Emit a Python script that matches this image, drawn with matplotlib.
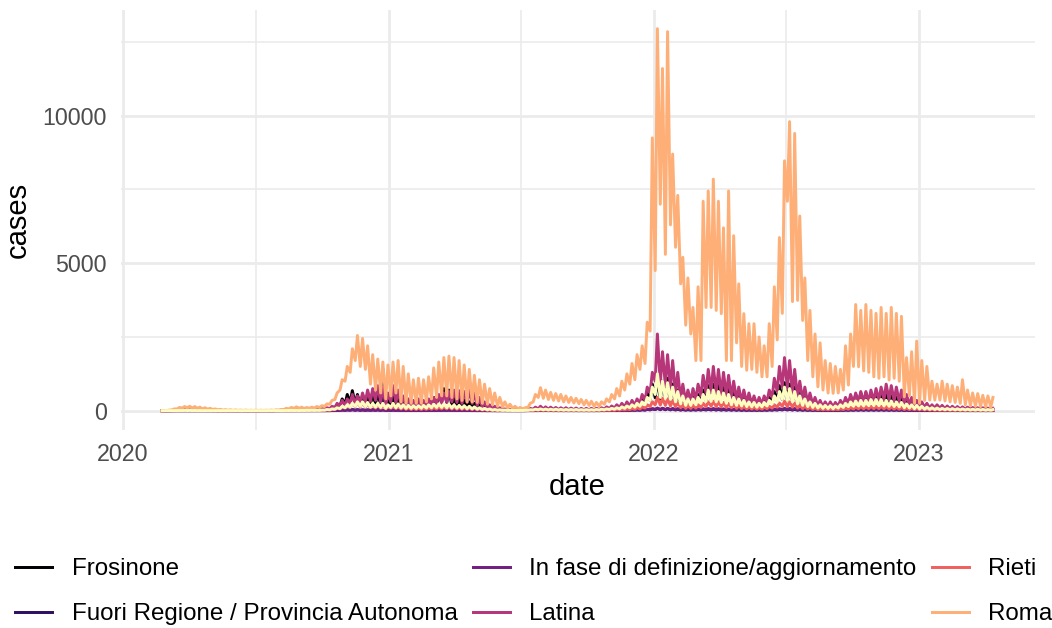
import numpy as np
import matplotlib
matplotlib.use("Agg")
import matplotlib.pyplot as plt
import matplotlib.dates as mdates
from matplotlib.lines import Line2D
from matplotlib.ticker import FixedLocator, NullFormatter

plt.rcParams['font.family'] = ['Liberation Sans', 'DejaVu Sans']

# Weekly reports start on Monday 2020-02-24; each week gives a Monday low
# and a mid-week high (daily new cases per province).
first_monday = np.datetime64('2020-02-24')

provinces = ["Frosinone", "Fuori Regione / Provincia Autonoma",
             "In fase di definizione/aggiornamento", "Latina", "Rieti",
             "Roma", "Viterbo"]
palette = ["#000004", "#2D1160", "#721F81", "#B63679", "#F1605D",
           "#FEAF77", "#FCFDBF"]

frosinone_high = [0, 2, 8, 15, 20, 18, 15, 12, 10, 8,
                  6, 5, 4, 3, 3, 3, 3, 3, 3, 3,
                  3, 4, 5, 8, 12, 15, 15, 18, 20, 25,
                  30, 40, 60, 80, 200, 400, 550, 680, 550, 500,
                  450, 550, 600, 500, 350, 450, 400, 300, 250, 250,
                  250, 280, 350, 450, 500, 750, 700, 450, 400, 350,
                  300, 250, 200, 150, 100, 70, 50, 30, 20, 15,
                  12, 20, 40, 60, 70, 60, 55, 50, 45, 40,
                  40, 40, 35, 35, 35, 40, 50, 70, 90, 120,
                  150, 200, 250, 300, 400, 600, 900, 1100, 1000, 1100,
                  900, 700, 500, 400, 450, 550, 700, 850, 900, 850,
                  800, 750, 650, 550, 450, 400, 350, 300, 350, 450,
                  650, 850, 950, 900, 800, 600, 450, 350, 280, 220,
                  200, 200, 200, 250, 350, 450, 550, 600, 600, 580,
                  550, 600, 550, 500, 450, 400, 300, 250, 220, 180,
                  150, 120, 110, 100, 90, 85, 80, 75, 70, 65,
                  60, 55, 50, 45]
frosinone_low = [0, 1, 4, 7, 9, 8, 7, 5, 4, 3,
                 3, 2, 2, 1, 1, 1, 1, 1, 1, 1,
                 1, 2, 2, 3, 5, 6, 6, 8, 9, 10,
                 12, 16, 25, 35, 80, 160, 220, 280, 230, 200,
                 180, 220, 240, 200, 120, 180, 160, 120, 100, 100,
                 100, 110, 140, 180, 200, 300, 280, 180, 160, 140,
                 120, 100, 80, 60, 40, 28, 20, 12, 8, 6,
                 5, 8, 16, 24, 28, 24, 22, 20, 18, 16,
                 16, 16, 14, 14, 14, 16, 20, 28, 36, 48,
                 60, 80, 100, 120, 160, 240, 360, 440, 400, 440,
                 360, 280, 200, 160, 180, 220, 280, 340, 360, 340,
                 320, 300, 260, 220, 180, 160, 140, 120, 140, 180,
                 260, 340, 380, 360, 320, 240, 180, 140, 110, 90,
                 80, 80, 80, 100, 140, 180, 220, 240, 240, 230,
                 220, 240, 220, 200, 180, 160, 120, 100, 90, 70,
                 60, 50, 45, 40, 36, 34, 32, 30, 28, 26,
                 24, 22, 20, 18]

fuori_high = [0, 0, 1, 1, 2, 2, 1, 1, 1, 1,
              0, 0, 0, 0, 0, 0, 0, 0, 0, 0,
              0, 0, 0, 1, 1, 1, 1, 1, 2, 2,
              2, 3, 5, 8, 15, 25, 30, 40, 35, 30,
              30, 35, 40, 1420, 25, 30, 25, 20, 15, 15,
              15, 15, 18, 20, 22, 25, 25, 22, 20, 18,
              15, 12, 10, 8, 6, 4, 3, 2, 2, 2,
              2, 3, 5, 8, 10, 9, 8, 7, 6, 6,
              6, 6, 5, 5, 5, 5, 6, 8, 10, 12,
              15, 18, 22, 28, 35, 45, 60, 80, 75, 70,
              60, 50, 40, 35, 35, 40, 45, 50, 50, 45,
              40, 38, 35, 30, 25, 22, 20, 20, 22, 28,
              35, 45, 55, 50, 45, 35, 28, 22, 18, 15,
              14, 14, 14, 16, 20, 24, 28, 30, 30, 30,
              30, 30, 28, 26, 24, 22, 18, 15, 13, 12,
              10, 9, 8, 8, 7, 7, 6, 6, 5, 5,
              5, 5, 4, 4]
fuori_low = [0, 0, 0, 0, 1, 1, 0, 0, 0, 0,
             0, 0, 0, 0, 0, 0, 0, 0, 0, 0,
             0, 0, 0, 0, 0, 0, 0, 0, 1, 1,
             1, 1, 2, 4, 7, 12, 15, 18, 16, 14,
             14, 16, 18, 15, 10, 14, 12, 9, 7, 7,
             7, 7, 8, 9, 10, 12, 12, 10, 9, 8,
             7, 6, 5, 4, 3, 2, 1, 1, 1, 1,
             1, 1, 2, 4, 5, 4, 4, 3, 3, 3,
             3, 3, 2, 2, 2, 2, 3, 4, 5, 6,
             7, 8, 10, 13, 16, 20, 28, 36, 34, 32,
             28, 23, 18, 16, 16, 18, 20, 23, 23, 20,
             18, 17, 16, 14, 11, 10, 9, 9, 10, 13,
             16, 20, 25, 23, 20, 16, 13, 10, 8, 7,
             6, 6, 6, 7, 9, 11, 13, 14, 14, 14,
             14, 14, 13, 12, 11, 10, 8, 7, 6, 5,
             4, 4, 4, 4, 3, 3, 3, 3, 2, 2,
             2, 2, 2, 2]

in_fase_high = [0, 0, 0, 0, 0, 0, 0, 0, 0, 0,
                0, 0, 0, 0, 0, 0, 0, 0, 0, 0,
                0, 0, 0, 0, 0, 0, 0, 0, 0, 0,
                0, 0, 2, 5, 10, 20, 25, 30, 30, 25,
                20, 20, 20, 15, 10, 15, 12, 10, 8, 8,
                8, 8, 10, 12, 15, 15, 15, 12, 10, 10,
                8, 6, 5, 4, 3, 2, 2, 1, 1, 1,
                1, 2, 4, 6, 8, 8, 8, 6, 6, 5,
                5, 5, 5, 5, 5, 5, 6, 8, 10, 12,
                15, 18, 22, 28, 35, 50, 70, 90, 85, 80,
                75, 70, 65, 60, 60, 65, 70, 75, 75, 70,
                65, 60, 55, 50, 45, 40, 40, 40, 45, 50,
                60, 70, 80, 80, 75, 65, 55, 45, 40, 35,
                30, 30, 30, 35, 40, 45, 50, 55, 55, 55,
                55, 55, 50, 50, 45, 40, 35, 30, 28, 25,
                22, 20, 18, 16, 15, 14, 13, 12, 11, 10,
                10, 9, 8, 8]
in_fase_low = [0, 0, 0, 0, 0, 0, 0, 0, 0, 0,
               0, 0, 0, 0, 0, 0, 0, 0, 0, 0,
               0, 0, 0, 0, 0, 0, 0, 0, 0, 0,
               0, 0, 1, 2, 5, 10, 12, 15, 15, 12,
               10, 10, 10, 7, 5, 7, 6, 5, 4, 4,
               4, 4, 5, 6, 7, 7, 7, 6, 5, 5,
               4, 3, 2, 2, 1, 1, 1, 0, 0, 0,
               0, 1, 2, 3, 4, 4, 4, 3, 3, 2,
               2, 2, 2, 2, 2, 2, 3, 4, 5, 6,
               7, 9, 11, 14, 17, 25, 35, 45, 42, 40,
               37, 35, 32, 30, 30, 32, 35, 37, 37, 35,
               32, 30, 27, 25, 22, 20, 20, 20, 22, 25,
               30, 35, 40, 40, 37, 32, 27, 22, 20, 17,
               15, 15, 15, 17, 20, 22, 25, 27, 27, 27,
               27, 27, 25, 25, 22, 20, 17, 15, 14, 12,
               11, 10, 9, 8, 7, 7, 6, 6, 5, 5,
               5, 4, 4, 4]

latina_high = [0, 3, 10, 20, 25, 20, 15, 12, 10, 8,
               5, 5, 5, 5, 5, 5, 5, 5, 5, 5,
               5, 8, 10, 15, 20, 30, 25, 30, 40, 45,
               50, 70, 100, 150, 250, 350, 400, 550, 500, 600,
               700, 750, 850, 800, 600, 850, 700, 500, 400, 350,
               400, 350, 400, 450, 550, 600, 650, 700, 680, 650,
               700, 600, 450, 300, 200, 150, 100, 60, 40, 30,
               25, 40, 80, 120, 150, 130, 120, 110, 100, 100,
               90, 90, 80, 80, 80, 80, 100, 130, 160, 200,
               250, 300, 350, 400, 550, 800, 1300, 2600, 2000, 1900,
               1700, 1300, 900, 700, 750, 900, 1200, 1400, 1500, 1400,
               1300, 1200, 1000, 800, 700, 600, 500, 450, 500, 700,
               1100, 1500, 1800, 1700, 1400, 1000, 800, 600, 450, 350,
               300, 300, 280, 350, 450, 550, 600, 650, 650, 700,
               750, 800, 900, 850, 800, 700, 550, 450, 350, 300,
               250, 200, 200, 180, 160, 150, 140, 130, 120, 110,
               100, 100, 90, 80]
latina_low = [0, 1, 5, 10, 12, 10, 8, 6, 5, 4,
              2, 2, 2, 2, 2, 2, 2, 2, 2, 2,
              2, 3, 5, 8, 10, 15, 12, 15, 20, 20,
              25, 30, 50, 70, 110, 150, 180, 250, 220, 260,
              300, 320, 350, 300, 200, 300, 280, 200, 150, 150,
              160, 150, 170, 200, 230, 250, 280, 300, 280, 250,
              280, 250, 180, 120, 80, 60, 40, 25, 15, 12,
              10, 15, 30, 50, 60, 55, 50, 45, 40, 40,
              35, 35, 30, 30, 30, 30, 40, 50, 70, 90,
              110, 130, 150, 180, 250, 350, 600, 1000, 900, 850,
              750, 550, 400, 300, 320, 380, 500, 600, 650, 600,
              550, 500, 420, 350, 300, 250, 220, 200, 220, 300,
              450, 650, 800, 750, 600, 450, 350, 250, 200, 150,
              130, 130, 120, 150, 200, 240, 260, 280, 280, 300,
              320, 350, 380, 360, 340, 300, 230, 190, 150, 130,
              110, 90, 90, 80, 70, 65, 60, 55, 50, 45,
              45, 45, 40, 35]

rieti_high = [0, 1, 3, 5, 6, 5, 4, 3, 2, 2,
              1, 1, 1, 1, 1, 1, 1, 1, 1, 1,
              1, 1, 2, 3, 4, 5, 5, 5, 6, 8,
              10, 15, 25, 40, 80, 130, 180, 250, 300, 280,
              250, 220, 200, 180, 150, 170, 150, 120, 100, 90,
              90, 90, 100, 110, 120, 130, 130, 120, 110, 100,
              90, 80, 60, 45, 30, 20, 15, 10, 8, 6,
              5, 8, 15, 25, 30, 25, 22, 20, 18, 16,
              15, 15, 14, 14, 14, 15, 18, 25, 30, 40,
              50, 60, 80, 100, 130, 200, 300, 450, 420, 400,
              350, 280, 220, 180, 180, 200, 250, 300, 320, 300,
              280, 250, 220, 180, 150, 130, 120, 110, 120, 150,
              200, 260, 320, 300, 260, 200, 160, 120, 90, 70,
              60, 60, 60, 70, 90, 110, 130, 140, 140, 150,
              150, 150, 140, 130, 120, 110, 90, 80, 70, 60,
              50, 40, 35, 32, 30, 28, 26, 24, 22, 20,
              20, 18, 16, 15]
rieti_low = [0, 0, 1, 2, 3, 2, 2, 1, 1, 1,
             0, 0, 0, 0, 0, 0, 0, 0, 0, 0,
             0, 0, 1, 1, 2, 2, 2, 2, 3, 4,
             5, 7, 12, 20, 40, 60, 90, 120, 140, 130,
             120, 100, 90, 80, 60, 80, 70, 55, 45, 40,
             40, 40, 45, 50, 55, 60, 60, 55, 50, 45,
             40, 35, 28, 20, 14, 9, 7, 5, 4, 3,
             2, 4, 7, 12, 14, 12, 10, 9, 8, 7,
             7, 7, 6, 6, 6, 7, 8, 12, 14, 18,
             22, 28, 36, 45, 60, 90, 140, 200, 190, 180,
             160, 130, 100, 80, 80, 90, 110, 140, 150, 140,
             130, 110, 100, 80, 70, 60, 55, 50, 55, 70,
             90, 120, 150, 140, 120, 90, 70, 55, 40, 32,
             28, 28, 28, 32, 40, 50, 60, 65, 65, 70,
             70, 70, 65, 60, 55, 50, 40, 36, 32, 28,
             22, 18, 16, 15, 14, 13, 12, 11, 10, 9,
             9, 8, 7, 7]

roma_high = [5, 20, 60, 110, 140, 150, 140, 120, 100, 80,
             60, 45, 35, 30, 25, 20, 20, 15, 15, 15,
             15, 20, 25, 40, 80, 110, 130, 120, 110, 120,
             140, 170, 230, 350, 600, 1050, 1500, 2100, 2550, 2450,
             2200, 1900, 1750, 1650, 1550, 1650, 1700, 1500, 1250, 1050,
             1100, 1050, 1150, 1450, 1650, 1800, 1850, 1800, 1700, 1550,
             1400, 1200, 1050, 900, 750, 600, 450, 300, 220, 150,
             110, 100, 250, 550, 780, 700, 620, 580, 550, 500,
             450, 420, 380, 350, 320, 280, 300, 400, 550, 750,
             1000, 1250, 1600, 1900, 2200, 3000, 9250, 12950, 11600, 12850,
             8700, 7300, 5200, 4500, 3500, 4200, 7100, 7450, 7850, 7100,
             6200, 7450, 5930, 4300, 3290, 2950, 2950, 2500, 2200, 2950,
             4200, 5870, 8470, 9800, 9400, 6600, 4500, 3400, 2600, 2300,
             1700, 1600, 1500, 1400, 2200, 2600, 3600, 3400, 3600, 3400,
             3300, 3500, 3300, 3500, 3300, 3200, 1800, 2000, 2360, 1700,
             1500, 1000, 900, 1000, 900, 850, 800, 1050, 700, 600,
             580, 520, 500, 450]
roma_low = [0, 5, 30, 60, 90, 100, 90, 80, 60, 50,
            40, 30, 20, 15, 10, 10, 8, 8, 8, 8,
            8, 10, 12, 20, 40, 60, 80, 80, 70, 80,
            90, 110, 150, 220, 380, 700, 1000, 1300, 1700, 1500,
            1400, 900, 700, 600, 400, 500, 600, 300, 250, 250,
            250, 250, 300, 400, 450, 500, 500, 450, 400, 350,
            300, 300, 280, 250, 220, 200, 150, 120, 90, 70,
            60, 60, 120, 300, 450, 420, 380, 350, 330, 300,
            280, 260, 240, 200, 180, 150, 150, 220, 300, 400,
            500, 700, 900, 1050, 1400, 1600, 2700, 4750, 7000, 5300,
            6300, 5540, 4300, 2900, 2600, 1700, 1700, 3500, 3500, 3400,
            3290, 1700, 1700, 2300, 1500, 1370, 1400, 1300, 1150, 1150,
            1500, 2400, 3300, 7100, 3700, 3740, 3060, 1700, 1150, 810,
            700, 600, 590, 600, 700, 870, 1500, 1490, 1350, 1300,
            1150, 1100, 1150, 1040, 1100, 1000, 470, 500, 250, 250,
            350, 360, 360, 360, 330, 300, 280, 250, 200, 170,
            150, 140, 135, 120]

viterbo_high = [0, 2, 5, 8, 10, 10, 8, 6, 5, 4,
                3, 3, 2, 2, 2, 2, 2, 2, 2, 2,
                2, 3, 4, 5, 8, 10, 10, 10, 12, 15,
                15, 20, 40, 60, 100, 150, 200, 250, 300, 300,
                280, 250, 250, 250, 200, 250, 230, 200, 180, 170,
                170, 180, 200, 220, 230, 230, 220, 200, 180, 170,
                150, 130, 100, 80, 60, 40, 30, 20, 15, 10,
                10, 15, 30, 50, 60, 55, 50, 50, 45, 40,
                40, 40, 35, 35, 35, 40, 50, 60, 80, 100,
                130, 160, 200, 250, 300, 450, 800, 1250, 1000, 950,
                800, 650, 500, 400, 400, 450, 550, 700, 700, 650,
                600, 550, 450, 400, 350, 300, 280, 250, 280, 350,
                500, 650, 800, 750, 650, 500, 400, 300, 250, 200,
                180, 170, 160, 200, 250, 300, 330, 350, 350, 380,
                380, 380, 350, 330, 300, 280, 230, 200, 180, 150,
                120, 100, 90, 80, 75, 70, 65, 60, 55, 50,
                50, 45, 40, 40]
viterbo_low = [0, 1, 2, 4, 5, 5, 4, 3, 2, 2,
               1, 1, 1, 1, 1, 1, 1, 1, 1, 1,
               1, 1, 2, 2, 4, 5, 5, 5, 6, 8,
               8, 10, 20, 30, 50, 70, 100, 120, 150, 150,
               140, 120, 120, 110, 80, 110, 100, 90, 80, 80,
               80, 85, 90, 100, 110, 110, 100, 90, 85, 80,
               70, 60, 50, 40, 30, 20, 15, 10, 8, 5,
               5, 8, 15, 25, 30, 28, 25, 25, 22, 20,
               20, 20, 18, 18, 18, 20, 25, 30, 40, 50,
               60, 80, 100, 120, 150, 200, 350, 550, 450, 420,
               380, 300, 230, 180, 180, 200, 250, 320, 320, 300,
               280, 250, 200, 180, 160, 140, 130, 120, 130, 160,
               230, 300, 380, 350, 300, 230, 180, 140, 110, 90,
               80, 75, 70, 90, 110, 140, 150, 160, 160, 170,
               170, 170, 160, 150, 140, 130, 100, 90, 70, 60,
               50, 45, 40, 35, 33, 30, 28, 26, 24, 22,
               22, 20, 18, 18]

series = [(frosinone_high, frosinone_low), (fuori_high, fuori_low),
          (in_fase_high, in_fase_low), (latina_high, latina_low),
          (rieti_high, rieti_low), (roma_high, roma_low),
          (viterbo_high, viterbo_low)]

year_ticks = ['2020', '2021', '2022', '2023']
case_ticks = [0, 5000, 10000]
case_minor = [2500, 7500, 12500]


def weekly_path(highs, lows):
    n = min(len(highs), len(lows))
    mondays = first_monday + np.arange(n) * np.timedelta64(7, 'D')
    thursdays = mondays + np.timedelta64(3, 'D')
    dates = np.empty(2 * n, dtype='datetime64[D]')
    values = np.empty(2 * n, dtype=float)
    dates[0::2], dates[1::2] = mondays, thursdays
    values[0::2], values[1::2] = lows[:n], highs[:n]
    return mdates.date2num(dates), values


W, H, DPI = 1052, 628, 150
fig = plt.figure(figsize=(W / DPI, H / DPI), dpi=DPI)
fig.patch.set_facecolor('white')
left, right, top, bottom = 120.5, 1034.5, 9.6, 429.8
ax = fig.add_axes([left / W, 1 - bottom / H, (right - left) / W, (bottom - top) / H])

lw = 1.42
x_min, x_max, y_max = np.inf, -np.inf, 0
for (hi, lo), color, name in zip(series, palette, provinces):
    xs, ys = weekly_path(hi, lo)
    ax.plot(xs, ys, color=color, lw=lw, solid_joinstyle='round', label=name)
    x_min, x_max = min(x_min, xs.min()), max(x_max, xs.max())
    y_max = max(y_max, ys.max())

# ggplot-style 5% expansion on both axes
xr = x_max - x_min
ax.set_xlim(x_min - 0.05 * xr, x_max + 0.05 * xr)
ax.set_ylim(-0.05 * y_max, y_max * 1.05)

ax.xaxis.set_major_locator(FixedLocator(
    [mdates.date2num(np.datetime64(f'{y}-01-01')) for y in year_ticks]))
ax.set_xticklabels(year_ticks)
ax.xaxis.set_minor_locator(FixedLocator(
    [mdates.date2num(np.datetime64(f'{y}-07-02')) for y in year_ticks]))
ax.xaxis.set_minor_formatter(NullFormatter())
ax.yaxis.set_major_locator(FixedLocator(case_ticks))
ax.set_yticklabels([str(v) for v in case_ticks])
ax.yaxis.set_minor_locator(FixedLocator(case_minor))
ax.yaxis.set_minor_formatter(NullFormatter())

ax.grid(which='major', color='#EBEBEB', lw=1.3)
ax.grid(which='minor', color='#EBEBEB', lw=0.8)
ax.set_axisbelow(True)
for s in ax.spines.values():
    s.set_visible(False)
ax.tick_params(which='both', length=0, labelsize=11.2, labelcolor='#4D4D4D')
ax.tick_params(axis='x', pad=6.5)
ax.tick_params(axis='y', pad=6.5)
ax.set_xlabel('date', fontsize=14, labelpad=3)
ax.set_ylabel('cases', fontsize=14, labelpad=5)

handles = [Line2D([], [], color=c, lw=lw) for c in palette]
fig.legend(handles, provinces, loc='upper left', bbox_to_anchor=(15 / W, 1 - 558 / H),
           ncol=4, frameon=False, fontsize=11.6, handlelength=1.55,
           handletextpad=0.8, columnspacing=0.62, labelspacing=0.95,
           borderpad=0, borderaxespad=0)

fig.savefig('out.png', dpi=DPI, facecolor='white')
